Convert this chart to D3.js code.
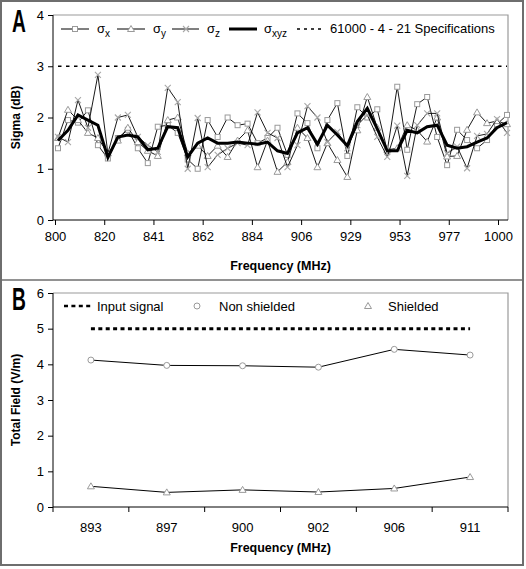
<!DOCTYPE html>
<html><head><meta charset="utf-8">
<script src="https://cdn.jsdelivr.net/npm/d3@7"></script>
<style>
html,body{margin:0;padding:0;background:#fff;}
svg text{font-family:"Liberation Sans",Arial,sans-serif;fill:#000;}
</style></head>
<body><svg id="c" width="526" height="569"></svg>
<script>
// ---------- Panel A data ----------
const freqLabelsA = ['800','820','841','862','884','906','929','953','977','1000'];
const sigmaX   = [1.40,1.95,1.90,2.14,1.46,1.20,1.60,1.76,1.40,1.11,1.82,1.85,1.70,1.18,1.00,1.95,1.62,2.00,1.85,1.88,1.50,1.60,1.80,1.27,2.08,1.89,1.40,1.95,2.28,1.25,2.20,2.00,2.16,1.35,2.60,1.37,2.26,2.40,1.62,1.07,1.76,1.56,1.40,1.56,1.87,2.05];
const sigmaY   = [1.60,2.15,1.95,1.70,1.60,1.30,1.55,1.80,1.52,1.35,1.25,1.95,2.00,1.30,1.45,1.25,1.45,1.23,1.55,1.75,1.03,1.55,0.94,1.13,1.80,1.60,1.03,1.50,1.17,0.84,1.75,2.40,1.80,1.37,1.40,1.85,1.75,1.53,2.00,1.24,1.25,1.76,2.10,1.89,1.93,1.87];
const sigmaZ   = [1.62,1.52,2.34,1.80,2.83,1.30,2.00,2.05,1.62,1.46,1.33,2.58,2.30,1.00,1.99,1.03,1.27,1.40,1.50,1.46,2.10,1.70,1.60,1.03,1.46,2.22,2.00,1.52,1.72,1.40,1.85,2.05,1.62,1.23,1.84,0.86,1.85,2.08,2.08,1.30,1.43,1.01,1.64,1.68,1.97,1.70];
const sigmaXYZ = [1.55,1.75,2.05,1.95,1.85,1.22,1.62,1.66,1.62,1.37,1.40,1.82,1.80,1.23,1.50,1.60,1.50,1.50,1.52,1.50,1.48,1.52,1.35,1.30,1.70,1.80,1.48,1.85,1.66,1.45,1.92,2.18,1.78,1.35,1.35,1.75,1.70,1.82,1.85,1.46,1.40,1.43,1.52,1.60,1.80,1.90];
const specLevel = 3;
const yTicksA = [0,1,2,3,4];

// ---------- Panel B data ----------
const freqB = ['893','897','900','902','906','911'];
const nonShielded = [4.12,3.97,3.96,3.92,4.42,4.26];
const shielded    = [0.58,0.41,0.48,0.42,0.52,0.84];
const inputSignal = [5,5,5,5,5,5];
const yTicksB = [0,1,2,3,4,5,6];

const svg = d3.select('#c');

// outer frame
svg.append('rect').attr('x',1).attr('y',1).attr('width',522).attr('height',564)
  .attr('fill','none').attr('stroke','#6e6e6e').attr('stroke-width',2);
svg.append('line').attr('x1',1).attr('x2',523).attr('y1',280).attr('y2',280)
  .attr('stroke','#6e6e6e').attr('stroke-width',1.5);

const L = 53, R = 508;
const GRAY = '#9a9a9a';

function sub(textSel, base, s, size){
  textSel.append('tspan').text(base);
  textSel.append('tspan').text(s).attr('dy',4).attr('font-size',size);
}

// ================= PANEL A =================
const topA = 15, botA = 220;
const n = sigmaX.length;
const xA = d3.scaleLinear().domain([0, n-1]).range([58, 507]);
const xTickA = d3.scalePoint().domain(freqLabelsA).range([55, 498]);
const yA = d3.scaleLinear().domain([0,4]).range([botA, topA]);

const gA = svg.append('g');
gA.append('path').attr('d',`M${L},${topA}H${R}V${botA}`).attr('fill','none').attr('stroke',GRAY).attr('stroke-width',1.2);

const yAxA = gA.append('g').attr('transform',`translate(${L},0)`)
  .call(d3.axisLeft(yA).tickValues(yTicksA).tickSize(5).tickPadding(4).tickFormat(d3.format('d')));
const xAxA = gA.append('g').attr('transform',`translate(0,${botA})`)
  .call(d3.axisBottom(xTickA).tickSize(5).tickPadding(7).tickSizeOuter(0));
xAxA.select('.domain').attr('d',`M${L},0H${R}`);
[yAxA,xAxA].forEach(a=>{a.selectAll('text').attr('font-size',13).attr('font-family','"Liberation Sans",Arial,sans-serif');
  a.selectAll('line,path').attr('stroke','#000');});
yAxA.select('.domain').attr('d',`M0,${topA}V${botA}`);

svg.append('text').attr('transform',`translate(20,${(topA+botA)/2}) rotate(-90)`)
  .attr('text-anchor','middle').attr('font-size',12).attr('font-weight','bold').text('Sigma (dB)');
svg.append('text').attr('x',(L+R)/2).attr('y',270).attr('text-anchor','middle')
  .attr('font-size',12.5).attr('font-weight','bold').text('Frequency (MHz)');
svg.append('text').attr('transform','translate(12,32) scale(0.62,1)').attr('font-size',31).attr('font-weight','bold')
  .attr('font-family','"DejaVu Sans","Liberation Sans",Arial,sans-serif').text('A');

function square(g,x,y){g.append('rect').attr('x',x-2.5).attr('y',y-2.5).attr('width',5).attr('height',5).attr('fill','#fff').attr('stroke',GRAY).attr('stroke-width',1);}
function tri(g,x,y){g.append('path').attr('d',`M${x},${y-3.5}L${x+3.5},${y+2.5}L${x-3.5},${y+2.5}Z`).attr('fill','#fff').attr('stroke',GRAY).attr('stroke-width',1);}
function cross(g,x,y){g.append('path').attr('d',`M${x-3},${y-3}L${x+3},${y+3}M${x-3},${y+3}L${x+3},${y-3}`).attr('stroke','#a8a8a8').attr('stroke-width',1.1);}
function circ(g,x,y){g.append('circle').attr('cx',x).attr('cy',y).attr('r',3).attr('fill','#fff').attr('stroke',GRAY).attr('stroke-width',1);}

const lineA = d3.line().x((d,i)=>xA(i)).y(d=>yA(d));
const plotA = gA.append('g');
[[sigmaX,square],[sigmaY,tri],[sigmaZ,cross]].forEach(([arr,mk])=>{
  plotA.append('path').attr('d',lineA(arr)).attr('fill','none').attr('stroke','#000').attr('stroke-width',0.9);
  const mg = plotA.append('g');
  arr.forEach((v,i)=>mk(mg,xA(i),yA(v)));
});
plotA.append('path').attr('d',lineA(sigmaXYZ)).attr('fill','none').attr('stroke','#000').attr('stroke-width',3);
plotA.append('line').attr('x1',xA(0)).attr('x2',xA(n-1)).attr('y1',yA(specLevel)).attr('y2',yA(specLevel))
  .attr('stroke','#000').attr('stroke-width',1.3).attr('stroke-dasharray','3.5,4.5');

const lgA = svg.append('g').attr('font-size',13);
const ly = 29;
function legLine(x1,x2,w,dash){lgA.append('line').attr('x1',x1).attr('x2',x2).attr('y1',ly).attr('y2',ly).attr('stroke','#000').attr('stroke-width',w).attr('stroke-dasharray',dash||null);}
legLine(61,89,1); square(lgA,75,ly);
sub(lgA.append('text').attr('x',97).attr('y',ly+4),'σ','x',10);
legLine(117,145,1); tri(lgA,131,ly);
sub(lgA.append('text').attr('x',153).attr('y',ly+4),'σ','y',10);
legLine(172,199,1); cross(lgA,186,ly);
sub(lgA.append('text').attr('x',207).attr('y',ly+4),'σ','z',10);
legLine(229,257,3);
sub(lgA.append('text').attr('x',264).attr('y',ly+4),'σ','xyz',10);
legLine(297,324,1.3,'3,4');
lgA.append('text').attr('x',330).attr('y',ly+4).text('61000 - 4 - 21 Specifications');

// ================= PANEL B =================
const topB = 293, botB = 507;
const xB = d3.scaleBand().domain(freqB).range([L, R]);
const cx = d => xB(d) + xB.bandwidth()/2;
const yB = d3.scaleLinear().domain([0,6]).range([botB, topB]);
const gB = svg.append('g');
gB.append('path').attr('d',`M${L},${topB}H${R}V${botB}`).attr('fill','none').attr('stroke',GRAY).attr('stroke-width',1.2);
const yAxB = gB.append('g').attr('transform',`translate(${L},0)`)
  .call(d3.axisLeft(yB).tickValues(yTicksB).tickSize(5).tickPadding(4).tickFormat(d3.format('d')));
yAxB.select('.domain').attr('d',`M0,${topB}V${botB}`);
const xAxB = gB.append('g').attr('transform',`translate(0,${botB})`)
  .call(d3.axisBottom(xB).tickSize(0).tickPadding(16));
xAxB.select('.domain').attr('d',`M${L},0H${R}`);
d3.range(freqB.length+1).forEach(k=>{
  const x = L + k*xB.step();
  xAxB.append('line').attr('x1',x).attr('x2',x).attr('y1',0).attr('y2',5).attr('stroke','#000');
});
[yAxB,xAxB].forEach(a=>{a.selectAll('text').attr('font-size',13).attr('font-family','"Liberation Sans",Arial,sans-serif');
  a.selectAll('line,path').attr('stroke','#000');});

svg.append('text').attr('transform',`translate(20,${(topB+botB)/2}) rotate(-90)`)
  .attr('text-anchor','middle').attr('font-size',12).attr('font-weight','bold').text('Total Field (V/m)');
svg.append('text').attr('x',(L+R)/2).attr('y',552).attr('text-anchor','middle')
  .attr('font-size',12.5).attr('font-weight','bold').text('Frequency (MHz)');
svg.append('text').attr('transform','translate(12,310) scale(0.62,1)').attr('font-size',31).attr('font-weight','bold')
  .attr('font-family','"DejaVu Sans","Liberation Sans",Arial,sans-serif').text('B');

const lineB = d3.line().x((d,i)=>cx(freqB[i])).y(d=>yB(d));
gB.append('path').attr('d',lineB(inputSignal)).attr('fill','none').attr('stroke','#000').attr('stroke-width',3).attr('stroke-dasharray','4,3.4');
gB.append('path').attr('d',lineB(nonShielded)).attr('fill','none').attr('stroke','#000').attr('stroke-width',1);
gB.append('path').attr('d',lineB(shielded)).attr('fill','none').attr('stroke','#000').attr('stroke-width',1);
const mB = gB.append('g');
nonShielded.forEach((v,i)=>circ(mB,cx(freqB[i]),yB(v)));
shielded.forEach((v,i)=>tri(mB,cx(freqB[i]),yB(v)));

const lgB = svg.append('g').attr('font-size',13);
const lyb = 306;
lgB.append('line').attr('x1',64).attr('x2',92).attr('y1',lyb).attr('y2',lyb).attr('stroke','#000').attr('stroke-width',2.5).attr('stroke-dasharray','4,3.4');
lgB.append('text').attr('x',97).attr('y',lyb+4.5).text('Input signal');
circ(lgB,197,lyb);
lgB.append('text').attr('x',219).attr('y',lyb+4.5).text('Non shielded');
tri(lgB,368,lyb);
lgB.append('text').attr('x',388).attr('y',lyb+4.5).text('Shielded');
</script></body></html>
